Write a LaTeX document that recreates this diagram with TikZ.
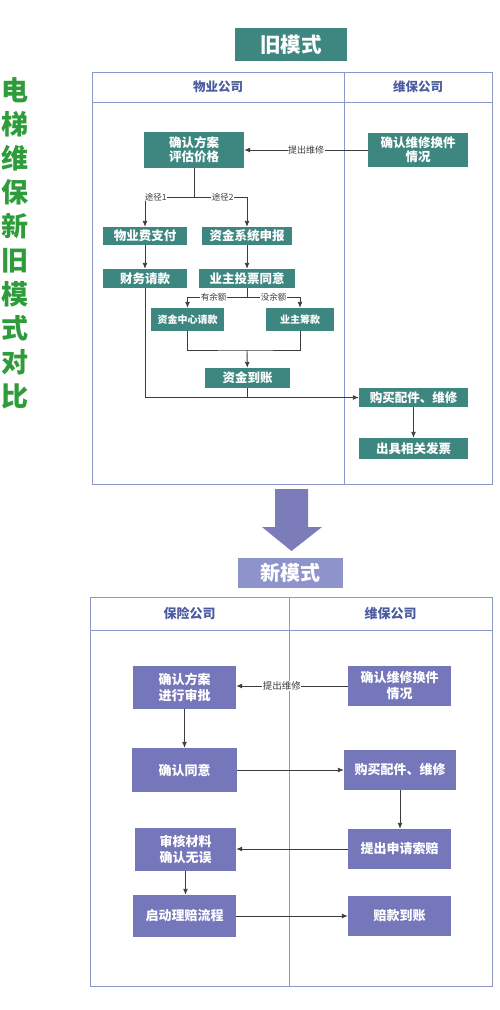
\documentclass[tikz,border=0pt]{standalone}
\usepackage{fontspec}
\setmainfont{Noto Sans CJK SC}
\usepackage{xcolor}
\usetikzlibrary{positioning,arrows.meta,calc}
\definecolor{oldteal}{RGB}{62,135,128}
\definecolor{newpurple}{RGB}{118,119,186}
\definecolor{newtitle}{RGB}{142,147,203}
\definecolor{bigarrow}{RGB}{124,124,186}
\definecolor{frameblue}{RGB}{140,152,200}
\definecolor{headblue}{RGB}{74,91,160}
\definecolor{titlegreen}{RGB}{46,156,58}
\definecolor{lineg}{RGB}{60,60,60}
\tikzset{
    oldbox/.style={fill=oldteal, text=white, font=\bfseries\fontsize{12.5}{14}\selectfont, inner sep=0pt, align=center},
    newbox/.style={fill=newpurple, text=white, font=\bfseries\fontsize{13}{16}\selectfont, inner sep=0pt, align=center},
    headtext/.style={text=headblue, font=\bfseries\fontsize{12.5}{14}\selectfont},
    lane/.style={draw=frameblue, line width=1pt},
    flow/.style={draw=lineg, line width=0.9pt, -{Latex[length=6pt,width=5pt]}},
    lbl/.style={fill=white, inner sep=0.5pt, text=lineg, font=\fontsize{8.5}{9}\selectfont}
}
\begin{document}
\begin{tikzpicture}[x=1pt,y=-1pt]
    \useasboundingbox (0,0) rectangle (500,1010);
    % side title
    \node[text=titlegreen, font=\bfseries\fontsize{27}{34}\selectfont, align=center] (side) at (15,243)
        {电\\梯\\维\\保\\新\\旧\\模\\式\\对\\比};

    % old mode
    \node[fill=oldteal, text=white, font=\bfseries\fontsize{20.5}{22}\selectfont, minimum width=112pt, minimum height=33pt] (oldtitle) at (291,44.5) {旧模式};
    \draw[lane] (92,72) rectangle (492,484);
    \draw[lane] (92,102) -- (492,102);
    \draw[lane] (344,72) -- (344,484);
    \node[headtext] (owuye) at (218,87) {物业公司};
    \node[headtext] (oweibao) at (418,87) {维保公司};

    \node[oldbox, minimum width=100pt, minimum height=36pt] (oplan) at (194,150) {确认方案\\评估价格};
    \node[oldbox, minimum width=100pt, minimum height=34pt] (orepair) at (418,150) {确认维修换件\\情况};
    \node[oldbox, minimum width=84pt, minimum height=18pt] (opay) at (145,236) {物业费支付};
    \node[oldbox, minimum width=90pt, minimum height=18pt] (osys) at (247,236) {资金系统申报};
    \node[oldbox, minimum width=84pt, minimum height=19pt] (oreq) at (145,278.5) {财务请款};
    \node[oldbox, minimum width=96pt, minimum height=19pt] (ovote) at (247,278.5) {业主投票同意};
    \node[oldbox, font=\bfseries\fontsize{10}{12}\selectfont, minimum width=73pt, minimum height=23pt] (ocenter) at (187.5,319.5) {资金中心请款};
    \node[oldbox, font=\bfseries\fontsize{10}{12}\selectfont, minimum width=68pt, minimum height=23pt] (oraise) at (300,319.5) {业主筹款};
    \node[oldbox, minimum width=85pt, minimum height=20pt] (oarrive) at (247.5,378) {资金到账};
    \node[oldbox, minimum width=109pt, minimum height=19pt] (obuy) at (413.5,397.5) {购买配件、维修};
    \node[oldbox, minimum width=109pt, minimum height=21pt] (oinvoice) at (413.5,448.5) {出具相关发票};

    \coordinate (ob1) at (194,197);
    \coordinate (ob2) at (247,297);
    \coordinate (om) at (247,350);
    \draw[flow] (orepair) -- node[lbl, font=\fontsize{9}{10}\selectfont] {提出维修} (oplan);
    \draw[draw=lineg, line width=0.9pt] (oplan) -- (ob1);
    \draw[flow] (ob1) -| node[lbl, pos=0.39] {途径1} (opay);
    \draw[flow] (ob1) -| node[lbl, pos=0.27] {途径2} (osys);
    \draw[flow] (opay) -- (oreq);
    \draw[flow] (osys) -- (ovote);
    \draw[draw=lineg, line width=0.9pt] (ovote) -- (ob2);
    \draw[flow] (ob2) -| node[lbl, pos=0.28] {有余额} (ocenter);
    \draw[flow] (ob2) -| node[lbl, pos=0.25] {没余额} (oraise);
    \draw[draw=lineg, line width=0.9pt] (ocenter) |- (om) -| (oraise);
    \draw[flow] (om) -- (oarrive);
    \draw[flow] (oreq) |- (obuy);
    \draw[draw=lineg, line width=0.9pt] (oarrive) -- (oarrive |- obuy.west);
    \draw[flow] (obuy) -- (oinvoice);

    % big arrow
    \fill[bigarrow] (275,489) -- (308,489) -- (308,527) -- (322,527) -- (291.5,551) -- (262,527) -- (275,527) -- cycle;

    % new mode
    \node[fill=newtitle, text=white, font=\bfseries\fontsize{20}{22}\selectfont, minimum width=105pt, minimum height=30pt] (newtitle) at (290.5,573) {新模式};
    \draw[lane] (90,597) rectangle (492,986);
    \draw[lane] (90,630) -- (492,630);
    \draw[lane] (289,597) -- (289,986);
    \node[headtext, font=\bfseries\fontsize{13}{14}\selectfont] (nbaoxian) at (189.5,613.5) {保险公司};
    \node[headtext, font=\bfseries\fontsize{13}{14}\selectfont] (nweibao) at (390.5,613.5) {维保公司};

    \node[newbox, minimum width=103pt, minimum height=43pt] (nplan) at (184.5,687.5) {确认方案\\进行审批};
    \node[newbox, minimum width=103pt, minimum height=40pt] (nrepair) at (399.5,686) {确认维修换件\\情况};
    \node[newbox, minimum width=105pt, minimum height=44pt] (nagree) at (184.5,770) {确认同意};
    \node[newbox, minimum width=112pt, minimum height=40pt] (nbuy) at (400,770) {购买配件、维修};
    \node[newbox, minimum width=101pt, minimum height=43pt] (ncheck) at (185.5,849.5) {审核材料\\确认无误};
    \node[newbox, minimum width=103pt, minimum height=40pt] (nclaim) at (399.5,849) {提出申请索赔};
    \node[newbox, minimum width=103pt, minimum height=42pt] (nstart) at (184.5,916) {启动理赔流程};
    \node[newbox, minimum width=103pt, minimum height=40pt] (npaid) at (399.5,916) {赔款到账};

    \draw[flow] (nrepair.west) -- node[lbl, pos=0.59, font=\fontsize{9.5}{10}\selectfont] {提出维修} (nrepair.west -| nplan.east);
    \draw[flow] (nplan) -- (nagree);
    \draw[flow] (nagree) -- (nbuy);
    \draw[flow] (nbuy) -- (nbuy |- nclaim.north);
    \draw[flow] (nclaim.west) -- (nclaim.west -| ncheck.east);
    \draw[flow] (ncheck) -- (ncheck |- nstart.north);
    \draw[flow] (nstart) -- (npaid);
\end{tikzpicture}
\end{document}
